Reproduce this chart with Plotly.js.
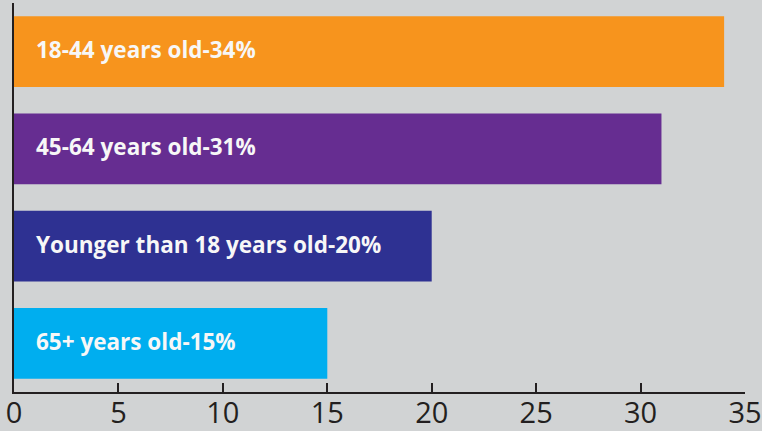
<!DOCTYPE html>
<html>
<head>
<meta charset="utf-8">
<script src="https://cdn.plot.ly/plotly-3.0.1.min.js"></script>
<style>html,body{margin:0;padding:0;background:#d1d3d4;}#chart{width:762px;height:431px;}</style>
</head>
<body>
<div id="chart"></div>
<script>
const categories = ["65+ years old", "Younger than 18 years old", "45-64 years old", "18-44 years old"];
const values = [15, 20, 31, 34];
const labels = ["65+ years old-15%", "Younger than 18 years old-20%", "45-64 years old-31%", "18-44 years old-34%"];
const colors = ["#00aeef", "#2e3192", "#662d91", "#f7941d"];
const tickValues = [0, 5, 10, 15, 20, 25, 30, 35];

const trace = {
  type: "bar",
  orientation: "h",
  x: values,
  y: categories,
  marker: {color: colors, line: {width: 0}},
  hoverinfo: "none"
};

const annotations = categories.map((c, i) => ({
  xref: "x", yref: "y",
  x: 0.95, y: c,
  yshift: 2,
  text: labels[i],
  showarrow: false,
  xanchor: "left", yanchor: "middle",
  font: {family: "Open Sans, sans-serif", size: 22.5, color: "#f7f7f7", weight: "bold"}
}));

const layout = {
  width: 762, height: 431,
  margin: {l: 14, r: 17, t: 3, b: 39},
  paper_bgcolor: "#d1d3d4",
  plot_bgcolor: "#d1d3d4",
  bargap: 0.27,
  showlegend: false,
  xaxis: {
    range: [0, 35],
    tickvals: tickValues,
    ticktext: tickValues.map(String),
    ticks: "inside",
    ticklen: 9,
    tickwidth: 2,
    tickcolor: "#231f20",
    showline: true,
    linecolor: "#231f20",
    linewidth: 2,
    showgrid: false,
    zeroline: false,
    ticklabelstandoff: -6,
    tickfont: {family: "Open Sans, sans-serif", size: 29, color: "#231f20"},
    fixedrange: true
  },
  yaxis: {
    showticklabels: false,
    ticks: "",
    showline: true,
    linecolor: "#231f20",
    linewidth: 2,
    showgrid: false,
    zeroline: false,
    fixedrange: true
  },
  annotations: annotations
};

Plotly.newPlot("chart", [trace], layout, {displayModeBar: false, staticPlot: true});
</script>
</body>
</html>
